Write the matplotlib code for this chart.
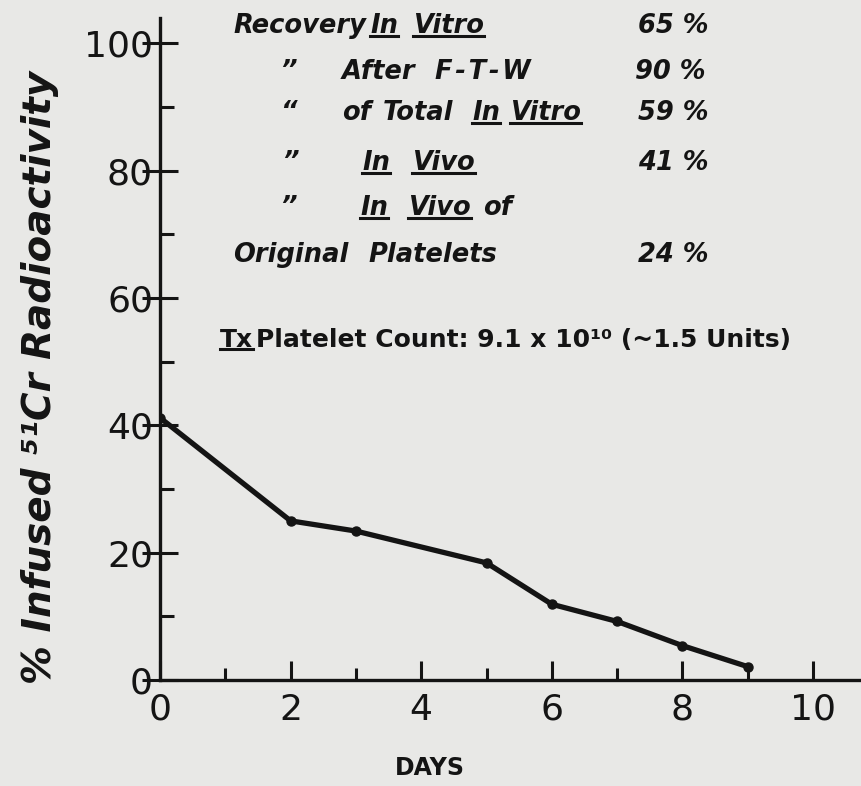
import matplotlib
matplotlib.use("Agg")
import matplotlib.pyplot as plt
from matplotlib.lines import Line2D

# platelet survival data
days = [0, 2, 3, 5, 6, 7, 8, 9]
activity = [41.2, 25.0, 23.4, 18.4, 11.9, 9.2, 5.4, 2.1]

x_major = [0, 2, 4, 6, 8, 10]
x_minor = [1, 3, 5, 7, 9]
y_major = [0, 20, 40, 60, 80, 100]
y_minor = [10, 30, 50, 70, 90]

# (x pixel, text, underlined) pieces per line, with line centre y pixel
recovery_lines = [
    (26, [(233, "Recovery", False), (370, "In", True), (413, "Vitro", True), (638, "65 %", False)]),
    (72, [(280, "\u201d", False), (342, "After", False), (435, "F\u200a-\u200aT\u200a-\u200aW", False), (635, "90 %", False)]),
    (113, [(280, "\u201c", False), (342, "of", False), (383, "Total", False), (472, "In", True), (510, "Vitro", True), (638, "59 %", False)]),
    (163, [(282, "\u201d", False), (362, "In", True), (412, "Vivo", True), (638, "41 %", False)]),
    (208, [(280, "\u201d", False), (360, "In", True), (408, "Vivo", True), (483, "of", False)]),
    (255, [(233, "Original", False), (368, "Platelets", False), (638, "24 %", False)]),
]
count_text = "Platelet Count: 9.1 x 10\u00b9\u2070 (~1.5 Units)"

W, H = 862, 786
ink = "#141414"
paper = "#e8e8e6"

fig = plt.figure(figsize=(W / 100, H / 100), dpi=100, facecolor=paper)
ax = fig.add_axes([160 / W, (H - 680) / H, (W - 160) / W, (680 - 18) / H])
ax.set_facecolor(paper)

ax.plot(days, activity, color=ink, lw=3.8, marker="o", ms=6.5, solid_joinstyle="round")

ax.set_xlim(0, 10.75)
ax.set_ylim(0, 104)
for s in ["top", "right"]:
    ax.spines[s].set_visible(False)
for s in ["left", "bottom"]:
    ax.spines[s].set_linewidth(2.4)
    ax.spines[s].set_color(ink)

ax.set_xticks(x_major)
ax.set_xticks(x_minor, minor=True)
ax.set_yticks(y_major)
ax.set_yticks(y_minor, minor=True)
ax.set_xticklabels([str(v) for v in x_major])
ax.set_yticklabels([str(v) for v in y_major])
ax.tick_params(axis="x", which="major", direction="in", length=14, width=2.2, color=ink,
               labelsize=26, pad=9, labelcolor=ink)
ax.tick_params(axis="x", which="minor", direction="in", length=9, width=2.2, color=ink)
ax.tick_params(axis="y", which="major", direction="inout", length=26, width=2.2, color=ink,
               labelsize=26, pad=-8, labelcolor=ink)
ax.tick_params(axis="y", which="minor", direction="in", length=10, width=2.2, color=ink)

ax.set_xlabel("DAYS", fontsize=17, fontweight="bold", color=ink, labelpad=20)
ax.xaxis.set_label_coords(0.385, -0.115)
fig.text(40 / W, 1 - 377 / H, "% Infused \u2075\u00b9Cr Radioactivity", rotation=90,
         ha="center", va="center", fontsize=28, fontweight="bold", fontstyle="italic", color=ink)

texts = []
for yp, pieces in recovery_lines:
    for xp, s, ul in pieces:
        t = fig.text(xp / W, 1 - yp / H, s, ha="left", va="center", fontsize=18.5,
                     fontweight="bold", fontstyle="italic", color=ink)
        texts.append((t, ul))

tx = fig.text(220 / W, 1 - 340 / H, "Tx", ha="left", va="center", fontsize=18,
              fontweight="bold", color=ink)
texts.append((tx, True))
fig.text(256 / W, 1 - 340 / H, count_text, ha="left", va="center", fontsize=18,
         fontweight="bold", color=ink)

fig.canvas.draw()
r = fig.canvas.get_renderer()
inv = fig.transFigure.inverted()
for t, ul in texts:
    if not ul:
        continue
    bb = t.get_window_extent(r)
    (x0, y0), (x1, _) = inv.transform([(bb.x0, bb.y0 + 3), (bb.x1, bb.y0)])
    fig.add_artist(Line2D([x0, x1], [y0, y0], transform=fig.transFigure, color=ink, lw=2.2))

fig.savefig("out.png", dpi=100, facecolor=paper)
